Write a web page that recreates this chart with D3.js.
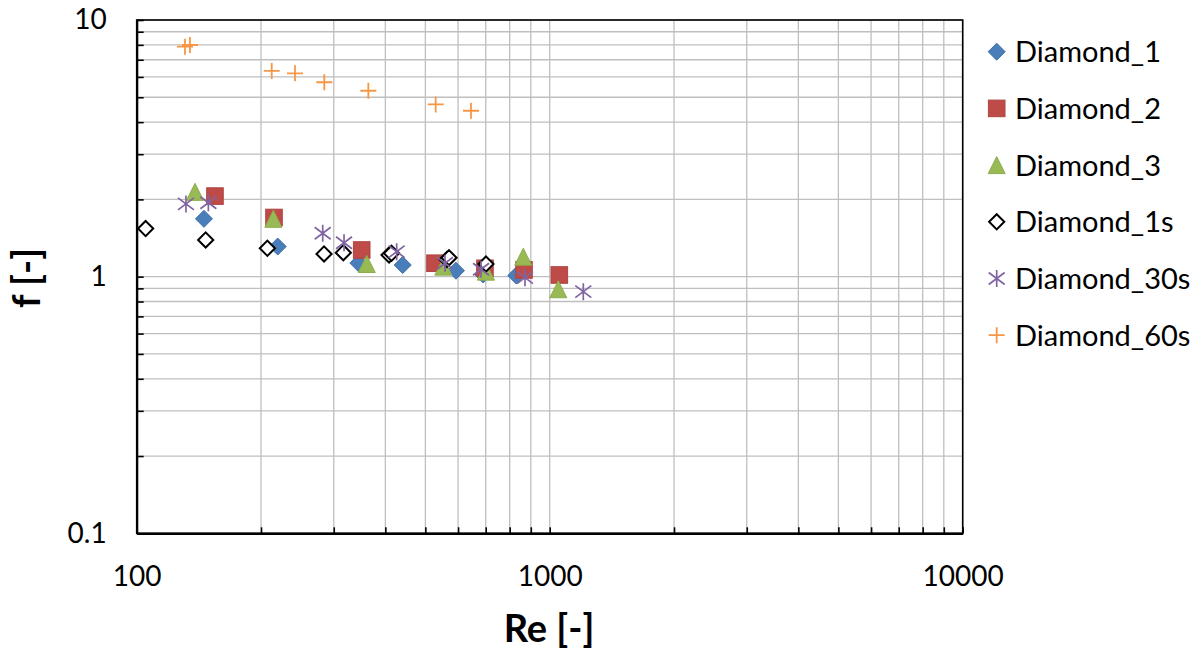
<!DOCTYPE html>
<html>
<head>
<meta charset="utf-8">
<script src="https://cdn.jsdelivr.net/npm/d3@7"></script>
<style>
  html, body { margin: 0; padding: 0; background: #fff; }
  svg { display: block; font-family: Lato, "Open Sans", sans-serif; }
</style>
</head>
<body>
<svg id="chart" width="1200" height="649"></svg>
<script>
// Friction factor vs Reynolds number for the diamond samples
const seriesNames = ["Diamond_1", "Diamond_2", "Diamond_3", "Diamond_1s", "Diamond_30s", "Diamond_60s"];

const reDiamond1 = [145.5, 219.5, 344, 440.6, 593, 690, 830];
const fDiamond1  = [1.68, 1.31, 1.13, 1.11, 1.055, 1.02, 1.01];

const reDiamond2 = [154.7, 215, 350.6, 527.6, 697, 866.5, 1055];
const fDiamond2  = [2.06, 1.70, 1.27, 1.128, 1.078, 1.062, 1.015];

const reDiamond3 = [138.4, 214.2, 360.6, 552.5, 701, 863, 1049];
const fDiamond3  = [2.14, 1.68, 1.12, 1.094, 1.046, 1.196, 0.893];

const reDiamond1s = [105.1, 146.9, 207.2, 284.2, 316.4, 408.3, 414, 564, 570.4, 701];
const fDiamond1s  = [1.54, 1.39, 1.29, 1.226, 1.24, 1.215, 1.233, 1.167, 1.185, 1.12];

const reDiamond30s = [131.6, 149.1, 282.1, 317.7, 426.1, 557.8, 681.9, 871.3, 1206];
const fDiamond30s  = [1.92, 1.94, 1.476, 1.356, 1.251, 1.128, 1.069, 0.991, 0.874];

const reDiamond60s = [130.9, 134.6, 212.3, 241.7, 284.6, 363.8, 529.6, 644.8];
const fDiamond60s  = [7.87, 7.99, 6.33, 6.20, 5.72, 5.30, 4.69, 4.43];

const xTickLabels = [100, 1000, 10000];
const yTickLabels = [0.1, 1, 10];
const xDomain = [100, 10000];
const yDomain = [0.1, 10];

const reSeries = [reDiamond1, reDiamond2, reDiamond3, reDiamond1s, reDiamond30s, reDiamond60s];
const fSeries  = [fDiamond1, fDiamond2, fDiamond3, fDiamond1s, fDiamond30s, fDiamond60s];
const markerKinds = ["diamond", "square", "triangle", "openDiamond", "star", "plus"];

// ---- layout & style ----
const plot = { left: 136.7, right: 962.7, top: 20, bottom: 533.3 };
const palette = {
  diamond:     { fill: "#4A7EBB", stroke: "#3F6FA8" },
  square:      { fill: "#BE4B48", stroke: "#AE4542" },
  triangle:    { fill: "#98B954", stroke: "#8DAD4C" },
  openDiamond: { fill: "#FFFFFF", stroke: "#000000" },
  star:        { fill: "none",    stroke: "#8064A2" },
  plus:        { fill: "none",    stroke: "#F79646" }
};

const svg = d3.select("#chart");
const x = d3.scaleLog().domain(xDomain).range([plot.left, plot.right]);
const y = d3.scaleLog().domain(yDomain).range([plot.bottom, plot.top]);

// gridlines at every decade subdivision
const grid = svg.append("g").attr("stroke", "#BFBFBF").attr("stroke-width", 1.3);
grid.selectAll("line.v").data(x.ticks()).join("line")
  .attr("class", "v")
  .attr("x1", d => x(d)).attr("x2", d => x(d))
  .attr("y1", plot.top).attr("y2", plot.bottom);
grid.selectAll("line.h").data(y.ticks()).join("line")
  .attr("class", "h")
  .attr("x1", plot.left).attr("x2", plot.right)
  .attr("y1", d => y(d)).attr("y2", d => y(d));

// plot frame
svg.append("rect")
  .attr("x", plot.left).attr("y", plot.top)
  .attr("width", plot.right - plot.left).attr("height", plot.bottom - plot.top)
  .attr("fill", "none").attr("stroke", "#000").attr("stroke-width", 1.6);

// axes with inward ticks
const isLabel = (list, d) => list.some(v => Math.abs(Math.log10(v) - Math.log10(d)) < 1e-9);

const xAxis = d3.axisBottom(x)
  .tickValues(x.ticks())
  .tickSizeInner(-6).tickSizeOuter(0).tickPadding(33)
  .tickFormat(d => isLabel(xTickLabels, d) ? String(d) : "");
const gx = svg.append("g").attr("transform", `translate(0,${plot.bottom})`).call(xAxis);

const yAxis = d3.axisLeft(y)
  .tickValues(y.ticks())
  .tickSizeInner(-7).tickSizeOuter(0).tickPadding(30)
  .tickFormat(d => isLabel(yTickLabels, d) ? String(d) : "");
const gy = svg.append("g").attr("transform", `translate(${plot.left},0)`).call(yAxis);

[gx, gy].forEach(g => {
  g.select(".domain").attr("stroke", "#000").attr("stroke-width", 2.2);
  g.selectAll(".tick line").attr("stroke", "#000").attr("stroke-width", 1.6);
  g.selectAll(".tick text").attr("fill", "#000").attr("font-size", 28)
    .attr("font-family", "Lato, 'Open Sans', sans-serif");
});

// marker shapes
function drawMarker(g, kind, cx, cy) {
  const c = palette[kind];
  if (kind === "diamond" || kind === "openDiamond") {
    const r = kind === "diamond" ? 8.5 : 7.6;
    g.append("path")
      .attr("d", `M${cx},${cy - r}L${cx + r},${cy}L${cx},${cy + r}L${cx - r},${cy}Z`)
      .attr("fill", c.fill).attr("stroke", c.stroke)
      .attr("stroke-width", kind === "diamond" ? 1 : 2);
  } else if (kind === "square") {
    const h = 8.3;
    g.append("rect").attr("x", cx - h).attr("y", cy - h)
      .attr("width", 2 * h).attr("height", 2 * h)
      .attr("fill", c.fill).attr("stroke", c.stroke).attr("stroke-width", 1);
  } else if (kind === "triangle") {
    const h = 8.5;
    g.append("path")
      .attr("d", `M${cx},${cy - h}L${cx + h},${cy + h}L${cx - h},${cy + h}Z`)
      .attr("fill", c.fill).attr("stroke", c.stroke).attr("stroke-width", 1);
  } else if (kind === "star") {
    const h = 8.5, dx = 8, dy = 6;
    g.append("path")
      .attr("d", `M${cx},${cy - h}L${cx},${cy + h}M${cx - dx},${cy - dy}L${cx + dx},${cy + dy}M${cx - dx},${cy + dy}L${cx + dx},${cy - dy}`)
      .attr("fill", "none").attr("stroke", c.stroke).attr("stroke-width", 1.7);
  } else if (kind === "plus") {
    const h = 8;
    g.append("path")
      .attr("d", `M${cx},${cy - h}L${cx},${cy + h}M${cx - h},${cy}L${cx + h},${cy}`)
      .attr("fill", "none").attr("stroke", c.stroke).attr("stroke-width", 1.8);
  }
}

// data points
const marks = svg.append("g");
seriesNames.forEach((name, i) => {
  const g = marks.append("g").attr("class", "series").attr("data-name", name);
  reSeries[i].forEach((re, j) => drawMarker(g, markerKinds[i], x(re), y(fSeries[i][j])));
});

// legend
const legend = svg.append("g");
const legendX = 996.7, legendY0 = 51.7, legendStep = 56.7;
seriesNames.forEach((name, i) => {
  const ly = legendY0 + i * legendStep;
  drawMarker(legend, markerKinds[i], legendX, ly);
  legend.append("text")
    .attr("x", 1015).attr("y", ly).attr("dy", "0.36em")
    .attr("font-size", 29).attr("fill", "#000")
    .text(name);
});

// axis titles
svg.append("text")
  .attr("x", 549).attr("y", 628).attr("dy", "0.36em")
  .attr("text-anchor", "middle").attr("font-size", 38).attr("font-weight", "bold")
  .text("Re [-]");
svg.append("text")
  .attr("transform", "translate(26,278) rotate(-90)")
  .attr("dy", "0.36em")
  .attr("text-anchor", "middle").attr("font-size", 38).attr("font-weight", "bold")
  .text("f [-]");
</script>
</body>
</html>
